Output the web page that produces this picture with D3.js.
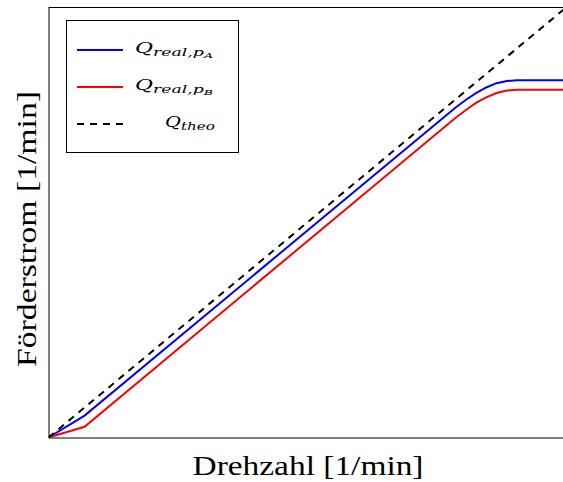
<!DOCTYPE html>
<html>
<head>
<meta charset="utf-8">
<script src="https://cdn.jsdelivr.net/npm/d3@7"></script>
<style>
  html, body { margin: 0; padding: 0; background: #fff; }
  svg { display: block; }
  text { font-family: "Liberation Serif", "DejaVu Serif", serif; fill: #000; }
  .leg { font-family: "DejaVu Serif", "Liberation Serif", serif; }
</style>
</head>
<body>
<svg id="chart" width="563" height="482"></svg>
<script>
// Pump delivery vs. speed (normalised units, 0–100)
const drehzahlTheo = [0, 100];
const foerderTheo  = [0, 99.5];

const drehzahlA = [0, 7, 79, 81, 83, 85, 87, 89, 91, 100];
const foerderA  = [0, 5.1, 76.7, 78.5, 80.1, 81.4, 82.4, 82.9, 83.1, 83.1];

const drehzahlB = [0, 7, 79, 81, 83, 85, 87, 89, 91, 100];
const foerderB  = [0, 2.5, 74.3, 76.1, 77.8, 79.1, 80.1, 80.7, 80.9, 80.9];

const xTitle = "Drehzahl [1/min]";
const yTitle = "Förderstrom [1/min]";

const svg = d3.select("#chart");
const plot = { left: 48.5, right: 563.5, top: 7.5, bottom: 437.5 };

const x = d3.scaleLinear().domain([0, 100]).range([plot.left, plot.right]);
const y = d3.scaleLinear().domain([0, 100]).range([plot.bottom, plot.top]);

const line = d3.line().x(d => x(d[0])).y(d => y(d[1])).curve(d3.curveLinear);
const zip = (a, b) => a.map((v, i) => [v, b[i]]);

svg.append("defs").append("clipPath").attr("id", "clip")
  .append("rect")
  .attr("x", plot.left).attr("y", plot.top)
  .attr("width", plot.right - plot.left).attr("height", plot.bottom - plot.top);

const g = svg.append("g").attr("clip-path", "url(#clip)");

const series = [
  { data: zip(drehzahlA, foerderA), color: "#0000ff", dash: null },
  { data: zip(drehzahlB, foerderB), color: "#ff0000", dash: null },
  { data: zip(drehzahlTheo, foerderTheo), color: "#000000", dash: "7,6" }
];

series.forEach(s => {
  g.append("path")
    .attr("d", line(s.data))
    .attr("fill", "none")
    .attr("stroke", s.color)
    .attr("stroke-width", 2)
    .attr("stroke-dasharray", s.dash);
});

// Frame, no ticks
const ax = svg.append("g");
ax.append("g").attr("transform", `translate(0,${plot.bottom})`)
  .call(d3.axisBottom(x).tickValues([]).tickSizeOuter(0))
  .select(".domain").attr("stroke", "#000").attr("stroke-width", 1);
ax.append("g").attr("transform", `translate(${plot.left},0)`)
  .call(d3.axisLeft(y).tickValues([]).tickSizeOuter(0))
  .select(".domain").attr("stroke", "#000").attr("stroke-width", 1);
ax.append("line")
  .attr("x1", plot.left).attr("x2", plot.right)
  .attr("y1", plot.top).attr("y2", plot.top)
  .attr("stroke", "#000").attr("stroke-width", 1);

// Axis titles
svg.append("text")
  .attr("x", 308).attr("y", 475)
  .attr("text-anchor", "middle")
  .attr("font-size", 28)
  .attr("textLength", 231)
  .attr("lengthAdjust", "spacingAndGlyphs")
  .text(xTitle);

svg.append("text")
  .attr("transform", `translate(36,229) rotate(-90)`)
  .attr("text-anchor", "middle")
  .attr("font-size", 28)
  .attr("textLength", 276)
  .attr("lengthAdjust", "spacingAndGlyphs")
  .text(yTitle);

// Legend
const lg = svg.append("g");
lg.append("rect")
  .attr("x", 66.5).attr("y", 20.5).attr("width", 172).attr("height", 132)
  .attr("fill", "#fff").attr("stroke", "#000").attr("stroke-width", 1);

const legendItems = [
  { color: "#0000ff", dash: null, y: 50, tx: 135, len: 78, sub: "real,", subsub: "A" },
  { color: "#ff0000", dash: null, y: 87, tx: 135, len: 78, sub: "real,", subsub: "B" },
  { color: "#000000", dash: "7,6", y: 124, tx: 165, len: 50, sub: "theo", subsub: null }
];

legendItems.forEach(it => {
  lg.append("line")
    .attr("x1", 77).attr("x2", 123).attr("y1", it.y).attr("y2", it.y)
    .attr("stroke", it.color).attr("stroke-width", 2)
    .attr("stroke-dasharray", it.dash);
  const t = lg.append("text")
    .attr("class", "leg")
    .attr("x", it.tx).attr("y", it.y + 3)
    .attr("font-style", "italic")
    .attr("font-size", 14)
    .attr("textLength", it.len)
    .attr("lengthAdjust", "spacingAndGlyphs");
  t.append("tspan").text("Q");
  t.append("tspan").attr("font-size", 11).attr("dy", 3).text(it.sub);
  if (it.subsub) {
    t.append("tspan").attr("font-size", 11).text("p");
    t.append("tspan").attr("font-size", 8).attr("dy", 2).text(it.subsub);
  }
});
</script>
</body>
</html>
